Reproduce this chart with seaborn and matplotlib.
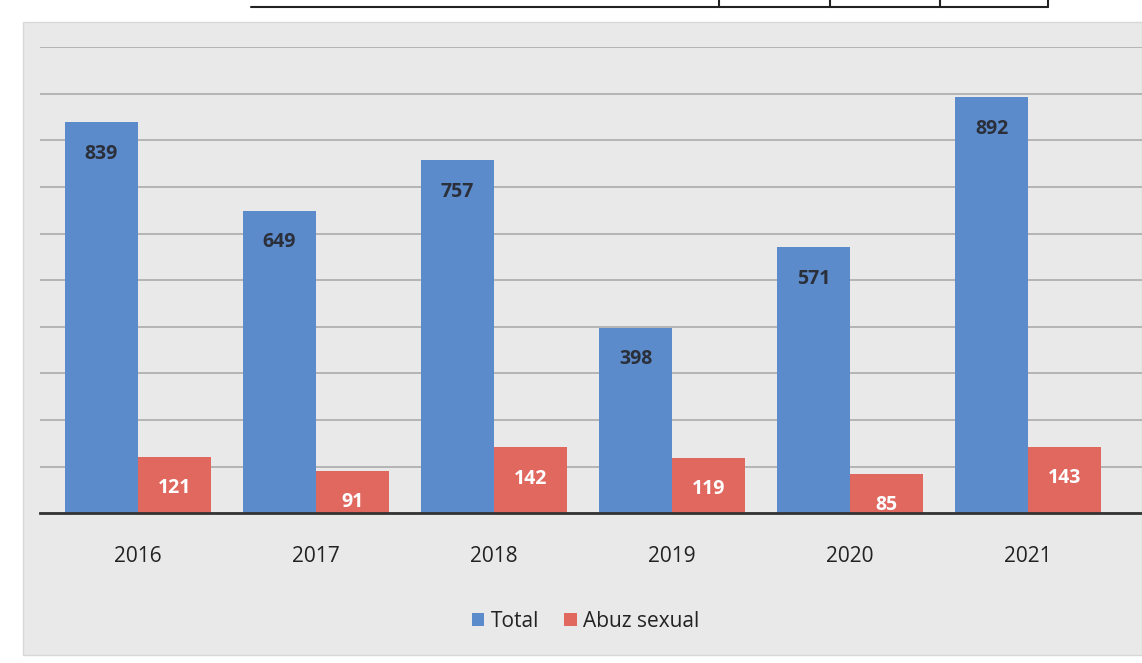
import matplotlib
matplotlib.use('Agg')
import matplotlib.pyplot as plt
from matplotlib.patches import Rectangle
from matplotlib.lines import Line2D
import pandas as pd
import seaborn as sns

# Datos
anios = ['2016', '2017', '2018', '2019', '2020', '2021']
total = [839, 649, 757, 398, 571, 892]
abuz = [121, 91, 142, 119, 85, 143]
series = ['Total', 'Abuz sexual']

df = pd.DataFrame({
    'An': anios * 2,
    'Valor': total + abuz,
    'Serie': [series[0]] * len(anios) + [series[1]] * len(anios),
})

sns.set_theme(style='white')
plt.rcParams['font.family'] = ['Open Sans', 'DejaVu Sans']

fig = plt.figure(figsize=(11.42, 6.63), dpi=100)
fig.patch.set_facecolor('white')

# fondo gris del grafico
fig.add_artist(Rectangle((0.02, 0.012), 0.98, 0.955, transform=fig.transFigure,
                         facecolor='#e9e9e9', edgecolor='#d8d8d8', zorder=0))
# trozo de tabla arriba
fig.add_artist(Line2D([0.22, 0.918], [0.99, 0.99], transform=fig.transFigure,
                      color='#222222', lw=1.5))
for xv in [0.63, 0.727, 0.823, 0.918]:
    fig.add_artist(Line2D([xv, xv], [0.99, 1.0], transform=fig.transFigure,
                          color='#222222', lw=1.5))

ax = fig.add_axes([0.035, 0.226, 0.965, 0.703])
ax.set_facecolor('none')

colores = {'Total': '#5b8bcb', 'Abuz sexual': '#e0685f'}
sns.barplot(data=df, x='An', y='Valor', hue='Serie', palette=colores,
            width=0.82, ax=ax, legend=True, saturation=1, zorder=3,
            linewidth=0)

ax.set_ylim(0, 1000)
ax.set_xlim(-0.55, 5.64)
ax.set_yticks(range(0, 1001, 100))
ax.yaxis.grid(True, color='#b0b0b0', lw=1.3, zorder=0)
ax.set_yticklabels([])
ax.tick_params(axis='y', length=0)
ax.tick_params(axis='x', length=0, pad=24, labelsize=15, labelcolor='#222222')
ax.set_xlabel('')
ax.set_ylabel('')
for s in ['top', 'right', 'left']:
    ax.spines[s].set_visible(False)
ax.spines['bottom'].set_color('#333333')
ax.spines['bottom'].set_linewidth(2)
ax.spines['bottom'].set_zorder(5)

# etiquetas de valor
for cont, col in zip(ax.containers, ['#2b2f3a', 'white']):
    ax.bar_label(cont, label_type='edge', padding=-30, fontsize=14,
                 fontweight='bold', color=col)

leg = ax.legend(loc='upper center', bbox_to_anchor=(0.495, -0.17), ncol=2,
                frameon=False, fontsize=15, handlelength=0.6, handleheight=0.6,
                handletextpad=0.3, columnspacing=1.2)
for t in leg.get_texts():
    t.set_color('#222222')

fig.savefig('out.png', dpi=100)
